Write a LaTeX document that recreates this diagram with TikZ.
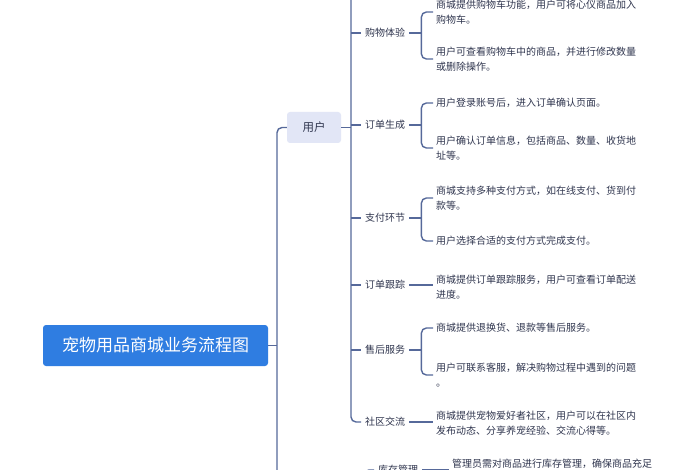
\documentclass[tikz,border=0pt]{standalone}
\usepackage{fontspec}
\setmainfont{Noto Sans CJK SC}
\usetikzlibrary{positioning,calc}
\definecolor{rootblue}{HTML}{2F7DE1}
\definecolor{userfill}{HTML}{E2E6F6}
\definecolor{linecol}{HTML}{56699A}
\definecolor{textcol}{HTML}{30364F}

\begin{document}
\begin{tikzpicture}[x=1pt, y=-1pt,
    root/.style={rectangle, rounded corners=3pt, fill=rootblue, text=white, font=\fontsize{17}{19}\selectfont, minimum width=225pt, minimum height=41pt},
    role/.style={rectangle, rounded corners=3pt, fill=userfill, text=textcol, font=\fontsize{11.5}{13}\selectfont, minimum width=54pt, minimum height=31pt},
    topic/.style={text=textcol, font=\fontsize{10}{12}\selectfont, inner ysep=0pt, inner xsep=4pt, anchor=west},
    leaf/.style={text=textcol, font=\fontsize{10}{14.5}\selectfont, inner ysep=0pt, inner xsep=3pt, anchor=west, align=left},
    link/.style={draw=linecol, line width=1.4pt, rounded corners=5pt}]

    \useasboundingbox (0,0) rectangle (700,470);
    \fill[white] (0,0) rectangle (700,470);
    \clip (0,0) rectangle (700,470);

    % main nodes
    \node[root] (root) at (155.5,345.5) {宠物用品商城业务流程图};
    \node[role] (user) at (314,127.5) {用户};

    % topics under the user
    \node[topic] (shop) at (361,33) {购物体验};
    \node[topic] (order) at (361,125) {订单生成};
    \node[topic] (pay) at (361,218) {支付环节};
    \node[topic] (track) at (361,285) {订单跟踪};
    \node[topic] (after) at (361,350) {售后服务};
    \node[topic] (club) at (361,422) {社区交流};
    \node[topic] (stock) at (374,470) {库存管理};

    % leaves
    \node[leaf] (shopA) at (433,12) {商城提供购物车功能，用户可将心仪商品加入\\购物车。};
    \node[leaf] (shopB) at (433,59) {用户可查看购物车中的商品，并进行修改数量\\或删除操作。};
    \node[leaf] (orderA) at (433,103) {用户登录账号后，进入订单确认页面。};
    \node[leaf] (orderB) at (433,148) {用户确认订单信息，包括商品、数量、收货地\\址等。};
    \node[leaf] (payA) at (433,198) {商城支持多种支付方式，如在线支付、货到付\\款等。};
    \node[leaf] (payB) at (433,241) {用户选择合适的支付方式完成支付。};
    \node[leaf] (trackA) at (433,287) {商城提供订单跟踪服务，用户可查看订单配送\\进度。};
    \node[leaf] (afterA) at (433,328) {商城提供退换货、退款等售后服务。};
    \node[leaf] (afterB) at (433,375) {用户可联系客服，解决购物过程中遇到的问题\\。};
    \node[leaf] (clubA) at (433,423) {商城提供宠物爱好者社区，用户可以在社区内\\发布动态、分享养宠经验、交流心得等。};
    \node[leaf] (stockA) at (449,464) {管理员需对商品进行库存管理，确保商品充足};

    % trunk
    \coordinate (trunk) at (277,490);
    \draw[link] (root.east) -- (root.east -| trunk);
    \draw[link] (user.west) -| (trunk);

    % user branch
    \coordinate (utop) at (351,-10);
    \draw[link] (user.east) -- (user.east -| utop);
    \draw[link] (utop) |- (club.west);
    \foreach \t in {shop,order,pay,track,after}
        \draw[link] (\t.west -| utop) -- (\t.west);
    \coordinate (stop) at (364,490);
    \draw[link] (stop) |- (stock.west);

    % braces to the leaves
    \foreach \t/\a/\b in {shop/shopA/shopB, order/orderA/orderB, pay/payA/payB, after/afterA/afterB} {
        \draw[link] (\t.east) -- ++(12,0);
        \draw[link] (\a.west) -| ($(\t.east)+(12,0)$) |- (\b.west);
    }
    \draw[link] (track.east) -- (track.east -| trackA.west);
    \draw[link] (club.east) -- (club.east -| clubA.west);
    \draw[link] (stock.east) -- (stock.east -| stockA.west);
\end{tikzpicture}
\end{document}
